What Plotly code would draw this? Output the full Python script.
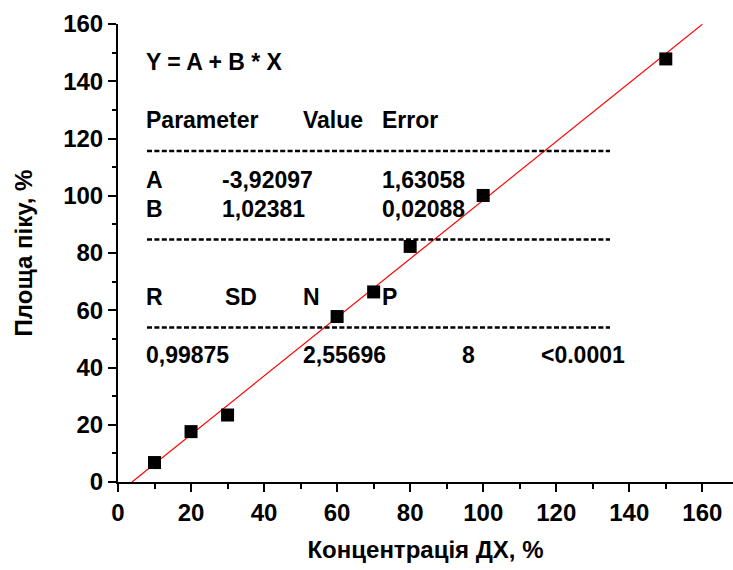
import plotly.graph_objects as go

# Calibration data: concentration vs. peak area
conc = [10, 20, 30, 60, 70, 80, 100, 150]
area = [6.8, 17.6, 23.4, 57.8, 66.4, 82.3, 100.1, 147.8]

# Linear fit Y = A + B * X
fit_a = -3.92097
fit_b = 1.02381
fit_a_err = 1.63058
fit_b_err = 0.02088
fit_r = 0.99875
fit_sd = 2.55696
fit_n = 8
fit_p = "<0.0001"

x_tick_vals = [0, 20, 40, 60, 80, 100, 120, 140, 160]
y_tick_vals = [0, 20, 40, 60, 80, 100, 120, 140, 160]

W, H = 733, 570
ML, MT, MB, MR = 118, 24, 88, 0
X_RANGE = [0, 168.4]
Y_RANGE = [0, 160]

FONT = "Liberation Sans, Arial, sans-serif"

x_line_start = -fit_a / fit_b
x_line_end = 160
fit_x = [x_line_start, x_line_end]
fit_y = [fit_a + fit_b * v for v in fit_x]

fig = go.Figure()
fig.add_trace(go.Scatter(
    x=fit_x, y=fit_y, mode="lines",
    line=dict(color="#ff0000", width=1.2),
    showlegend=False, hoverinfo="skip",
))
fig.add_trace(go.Scatter(
    x=conc, y=area, mode="markers",
    marker=dict(symbol="square", size=13, color="black",
                line=dict(width=0)),
    showlegend=False,
))


def px_to_x(px):
    return X_RANGE[0] + (px - ML) / (W - ML - MR) * (X_RANGE[1] - X_RANGE[0])


def py_to_y(py):
    return Y_RANGE[1] - (py - MT) / (H - MT - MB) * (Y_RANGE[1] - Y_RANGE[0])


def fmt(v, nd=5):
    return f"{v:.{nd}f}".replace(".", ",")


# Fit-result table drawn inside the plot area
table_items = [
    ("Y = A + B * X", 144, 62),
    ("Parameter", 144, 120), ("Value", 301, 120), ("Error", 380, 120),
    ("A", 144, 180), (fmt(fit_a), 220, 180), (fmt(fit_a_err), 380, 180),
    ("B", 144, 209), (fmt(fit_b), 220, 209), (fmt(fit_b_err), 380, 209),
    ("R", 144, 297), ("SD", 223, 297), ("N", 301, 297), ("P", 380, 297),
    (fmt(fit_r), 144, 355), (fmt(fit_sd), 301, 355), (str(fit_n), 460, 355),
    (fit_p, 539, 355),
]
annotations = []
for text, px, py in table_items:
    annotations.append(dict(
        x=px_to_x(px), y=py_to_y(py), xref="x", yref="y",
        text=text, showarrow=False, xanchor="left", yanchor="middle",
        font=dict(family=FONT, size=23, color="black", weight="bold"),
    ))

shapes = []
for py in [151, 239.5, 327.5]:
    shapes.append(dict(
        type="line", xref="x", yref="y",
        x0=px_to_x(147), x1=px_to_x(610), y0=py_to_y(py), y1=py_to_y(py),
        line=dict(color="black", width=2.5, dash="5px,2.4px"),
    ))

axis_common = dict(
    showline=True, linecolor="black", linewidth=2,
    ticks="outside", ticklen=8, tickwidth=2, tickcolor="black",
    showgrid=False, zeroline=False, mirror=False,
    tickfont=dict(family=FONT, size=24, color="black", weight="bold"),
    minor=dict(ticks="outside", ticklen=4.5, tickwidth=1.5,
               tickcolor="black", dtick=10, showgrid=False),
)

fig.update_layout(
    width=W, height=H,
    margin=dict(l=ML, r=MR, t=MT, b=MB),
    paper_bgcolor="white", plot_bgcolor="white",
    xaxis=dict(
        range=X_RANGE, tickvals=x_tick_vals, **axis_common,
        title=dict(text="Концентрація ДХ, %", standoff=16,
                   font=dict(family=FONT, size=24, color="black", weight="bold")),
    ),
    yaxis=dict(
        range=Y_RANGE, tickvals=y_tick_vals, **axis_common,
        title=dict(text="Площа піку, %", standoff=24,
                   font=dict(family=FONT, size=24, color="black", weight="bold")),
    ),
    annotations=annotations,
    shapes=shapes,
)

fig.write_html("out.html")
